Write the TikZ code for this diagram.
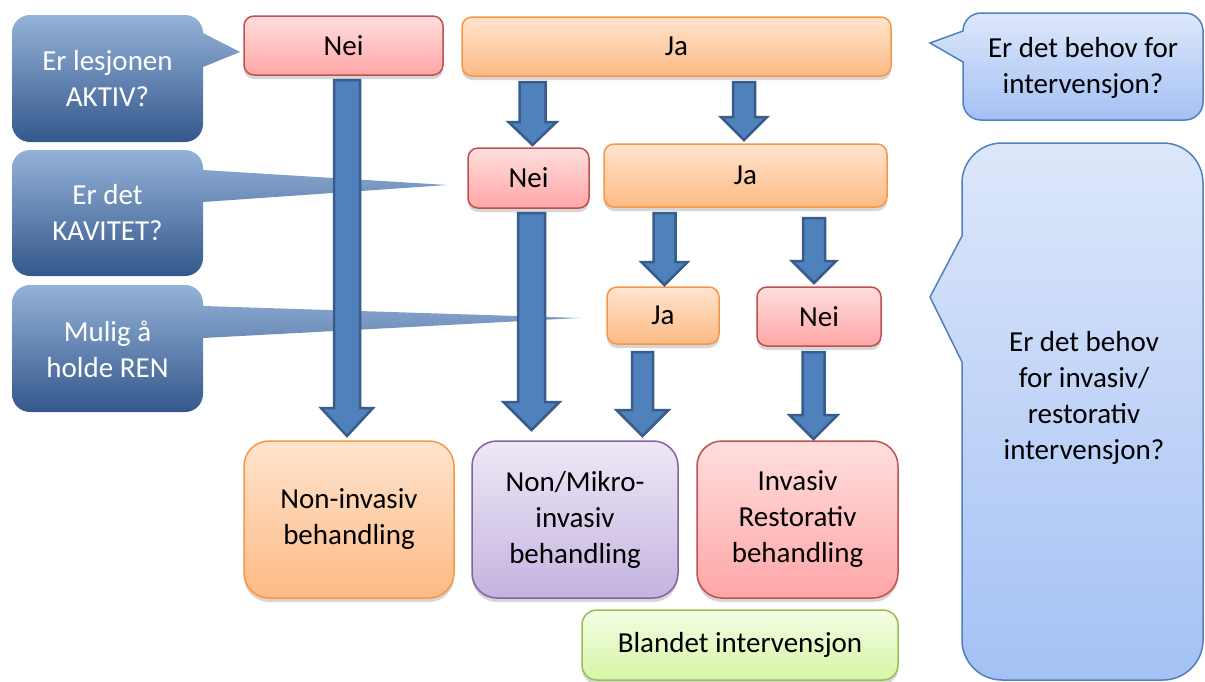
\documentclass[tikz,border=0pt]{standalone}
\usepackage{fontspec}
\setmainfont{Carlito}
\usetikzlibrary{calc,shadows}
\definecolor{pinktop}{RGB}{255,222,222}
\definecolor{pinkbot}{RGB}{255,166,166}
\definecolor{pinkline}{RGB}{192,80,77}
\definecolor{orgtop}{RGB}{255,228,206}
\definecolor{orgbot}{RGB}{252,186,132}
\definecolor{orgline}{RGB}{247,150,70}
\definecolor{purtop}{RGB}{238,232,246}
\definecolor{purbot}{RGB}{196,179,224}
\definecolor{purline}{RGB}{128,100,162}
\definecolor{grntop}{RGB}{244,253,228}
\definecolor{grnbot}{RGB}{214,245,166}
\definecolor{grnline}{RGB}{155,187,89}
\definecolor{lbtop}{RGB}{148,178,216}
\definecolor{lbmid}{RGB}{86,133,196}
\definecolor{lbbot}{RGB}{52,88,140}
\definecolor{rbtop}{RGB}{221,231,250}
\definecolor{rbbot}{RGB}{164,193,245}
\definecolor{rbline}{RGB}{79,129,189}
\definecolor{arrfill}{RGB}{79,129,189}
\definecolor{arrline}{RGB}{56,93,138}
\tikzset{
  boxbase/.style={draw, line width=1.5pt, rounded corners=10pt, align=center,
    inner sep=0pt, outer sep=0pt, text=black,
    font=\fontsize{29}{36}\selectfont,
    drop shadow={shadow xshift=0pt, shadow yshift=-4pt, opacity=0.16, fill=black}},
  pinkbox/.style={boxbase, draw=pinkline, top color=pinktop, bottom color=pinkbot},
  orangebox/.style={boxbase, draw=orgline, top color=orgtop, bottom color=orgbot},
  purplebox/.style={boxbase, draw=purline, top color=purtop, bottom color=purbot},
  greenbox/.style={boxbase, draw=grnline, top color=grntop, bottom color=grnbot},
  lcall/.style={top color=lbtop, middle color=lbmid, bottom color=lbbot},
  rcall/.style={draw=rbline, line width=1.5pt, top color=rbtop, bottom color=rbbot},
  lcalltext/.style={align=center, text=white, inner sep=0pt, font=\fontsize{29}{36}\selectfont},
  rcalltext/.style={align=center, text=black, inner sep=0pt, font=\fontsize{29}{36}\selectfont},
  blockarrow/.style={fill=arrfill, draw=arrline, line width=2.5pt, line join=miter},
}
% callout with pointer on the right side
\newcommand{\lcallout}[9]{%
  \path[lcall] (#1+#5,#2) -- (#3-#5,#2) arc[start angle=270,end angle=360,radius=#5]
    -- (#3,#6) -- (#8,#9) -- (#3,#7)
    -- (#3,#4-#5) arc[start angle=0,end angle=90,radius=#5]
    -- (#1+#5,#4) arc[start angle=90,end angle=180,radius=#5]
    -- (#1,#2+#5) arc[start angle=180,end angle=270,radius=#5] -- cycle;}
% callout with pointer on the left side
\newcommand{\rcallout}[9]{%
  \path[rcall] (#1+#5,#2) -- (#3-#5,#2) arc[start angle=270,end angle=360,radius=#5]
    -- (#3,#4-#5) arc[start angle=0,end angle=90,radius=#5]
    -- (#1+#5,#4) arc[start angle=90,end angle=180,radius=#5]
    -- (#1,#7) -- (#8,#9) -- (#1,#6)
    -- (#1,#2+#5) arc[start angle=180,end angle=270,radius=#5] -- cycle;}
% block arrow: start, end, shaft half width, head half width, head length
\newcommand{\blockarr}[5]{%
  \draw[blockarrow] ($(#1)+(-#3,0)$) -- ($(#2)+(-#3,-#5)$) -- ($(#2)+(-#4,-#5)$)
    -- (#2) -- ($(#2)+(#4,-#5)$) -- ($(#2)+(#3,-#5)$) -- ($(#1)+(#3,0)$) -- cycle;}
\begin{document}
\begin{tikzpicture}[x=1pt,y=-1pt]
\fill[white] (0,0) rectangle (1205,681);
\useasboundingbox (0,0) rectangle (1205,681);

% callouts
\lcallout{12}{15}{203}{142}{18}{33}{67}{240}{52}
\lcallout{12}{150}{203}{276}{18}{170}{202}{447}{185}
\lcallout{12}{285}{203}{412}{18}{306}{338}{579}{318}
\rcallout{963}{13}{1203}{120}{18}{31}{62}{930}{43}
\rcallout{962}{143}{1203}{680}{40}{236}{362}{930}{297}

\node[lcalltext] (q1) at (107.5,79) {Er lesjonen\\AKTIV?};
\node[lcalltext] (q2) at (107.5,213) {Er det\\KAVITET?};
\node[lcalltext] (q3) at (107.5,349) {Mulig å\\holde REN};
\node[rcalltext] (q4) at (1083,68) {Er det behov for\\intervensjon?};
\node[rcalltext] (q5) at (1084,398) {Er det behov\\for invasiv/\\restorativ\\intervensjon?};

% decision boxes
\node[pinkbox, minimum width=199pt, minimum height=59pt] (nei1) at (343.5,45.5) {Nei};
\node[orangebox, minimum width=429pt, minimum height=59pt] (ja1) at (676.5,46.5) {Ja};
\node[pinkbox, minimum width=121pt, minimum height=60pt] (nei2) at (528.5,178) {Nei};
\node[orangebox, minimum width=283pt, minimum height=63pt] (ja2) at (745.5,175.5) {Ja};
\node[orangebox, minimum width=112pt, minimum height=57pt] (ja3) at (663,315.5) {Ja};
\node[pinkbox, minimum width=124pt, minimum height=59pt] (nei3) at (819,316.5) {Nei};

% outcome boxes
\node[orangebox, rounded corners=25pt, minimum width=210pt, minimum height=157pt] (noninv) at (349,519.5) {Non-invasiv\\behandling};
\node[purplebox, rounded corners=25pt, minimum width=206pt, minimum height=157pt] (nonmik) at (575,519.5) {Non/Mikro-\\invasiv\\behandling};
\node[pinkbox, rounded corners=25pt, minimum width=201pt, minimum height=157pt] (invas) at (797.5,519.5) {Invasiv\\Restorativ\\behandling};
\node[greenbox, rounded corners=15pt, minimum width=316pt, minimum height=70pt] (bland) at (740,645) {Blandet intervensjon};

% arrow end points
\coordinate (a1s) at ($(nei1.south)+(3.5,5)$);
\coordinate (a1e) at ($(noninv.north)+(-2,-5)$);
\coordinate (a2s) at ($(nei2.north |- ja1.south)+(4,6)$);
\coordinate (a2e) at ($(nei2.north)+(4,-3)$);
\coordinate (a3s) at ($(ja2.north |- ja1.south)+(-1.5,6)$);
\coordinate (a3e) at ($(ja2.north)+(-1.5,-4)$);
\coordinate (a4s) at ($(nei2.south)+(3,5)$);
\coordinate (a4e) at ($(nei2.south |- nonmik.north)+(3,-11)$);
\coordinate (a5s) at ($(ja3.north |- ja2.south)+(1.5,6)$);
\coordinate (a5e) at ($(ja3.north)+(1.5,-2)$);
\coordinate (a6s) at ($(nei3.north |- ja2.south)+(-5,11)$);
\coordinate (a6e) at ($(nei3.north)+(-5,-4)$);
\coordinate (a7s) at ($(ja3.south)+(-20.5,8)$);
\coordinate (a7e) at ($(a7s |- nonmik.north)+(0,-5)$);
\coordinate (a8s) at ($(nei3.south)+(-5.5,6)$);
\coordinate (a8e) at ($(a8s |- invas.north)+(0,-2)$);

\blockarr{a1s}{a1e}{13}{26}{28}
\blockarr{a2s}{a2e}{13}{24}{23}
\blockarr{a3s}{a3e}{11}{23}{23}
\blockarr{a4s}{a4e}{13.5}{28}{28}
\blockarr{a5s}{a5e}{11}{23}{23}
\blockarr{a6s}{a6e}{11}{22}{22}
\blockarr{a7s}{a7e}{10.5}{26}{26}
\blockarr{a8s}{a8e}{11}{24}{24}
\end{tikzpicture}
\end{document}
